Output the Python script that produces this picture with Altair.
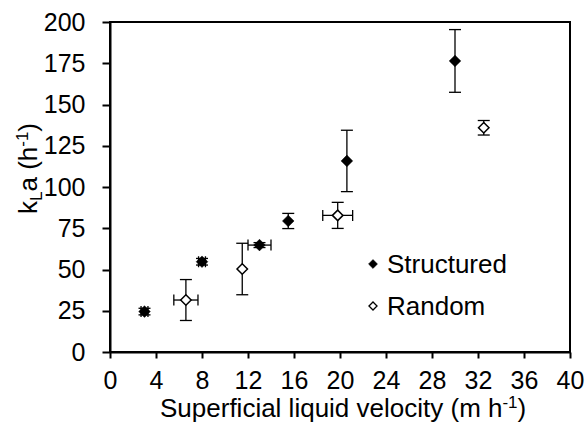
import altair as alt
import pandas as pd

# ---- data ----
series_names = ["Structured", "Random"]
s_x = [3.0, 8.0, 13.0, 15.5, 20.6, 30.0]
s_y = [24.5, 54.7, 64.8, 79.4, 115.8, 176.4]
s_xerr = [0.3, 0.3, 1.0, 0.0, 0.0, 0.0]
s_yerr = [2.0, 2.0, 1.5, 4.6, 18.6, 19.0]

r_x = [6.6, 11.5, 19.8, 32.5]
r_y = [31.5, 50.3, 82.8, 135.9]
r_xerr = [1.05, 0.0, 1.3, 0.0]
r_yerr = [12.4, 15.6, 7.9, 4.4]

x_ticks = list(range(0, 41, 2))
y_ticks = list(range(0, 201, 25))

FONT = "Liberation Sans"

rows = []
for name, xs, ys, xe, ye in [("Structured", s_x, s_y, s_xerr, s_yerr),
                             ("Random", r_x, r_y, r_xerr, r_yerr)]:
    for a, b, c, d in zip(xs, ys, xe, ye):
        rows.append({"series": name, "x": a, "y": b, "xerr": c, "yerr": d,
                     "xlo": a - c, "xhi": a + c, "ylo": b - d, "yhi": b + d})
df = pd.DataFrame(rows)

xs_scale = alt.Scale(domain=[0, 40], nice=False, zero=False)
ys_scale = alt.Scale(domain=[0, 200], nice=False)

x_axis = alt.Axis(values=x_ticks, labelExpr="datum.value % 4 == 0 ? datum.label : ''",
                  title=None, grid=False, tickSize=6, labelPadding=10,
                  labelFontSize=25, labelFont=FONT, labelColor="black",
                  domainColor="black", domainWidth=2, tickColor="black", tickWidth=2,
                  labelFlush=False, labelOverlap=False)
y_axis = alt.Axis(values=y_ticks, title=None, grid=False, tickSize=8, labelPadding=17,
                  labelFontSize=25, labelFont=FONT, labelColor="black",
                  domainColor="black", domainWidth=2, tickColor="black", tickWidth=2,
                  labelOverlap=False)

base = alt.Chart(df)
ERR_W = 1.3

yerr_rule = base.mark_rule(color="black", strokeWidth=ERR_W).encode(
    x=alt.X("x:Q", scale=xs_scale, axis=x_axis),
    y=alt.Y("ylo:Q", scale=ys_scale, axis=y_axis),
    y2="yhi:Q")
ycap_lo = base.mark_tick(orient="horizontal", size=12, thickness=ERR_W, color="black", opacity=1).encode(
    x="x:Q", y="ylo:Q")
ycap_hi = base.mark_tick(orient="horizontal", size=12, thickness=ERR_W, color="black", opacity=1).encode(
    x="x:Q", y="yhi:Q")

xb = base.transform_filter("datum.xerr > 0")
xerr_rule = xb.mark_rule(color="black", strokeWidth=ERR_W).encode(
    x="xlo:Q", x2="xhi:Q", y="y:Q")
xcap_lo = xb.mark_tick(orient="vertical", size=11, thickness=ERR_W, color="black", opacity=1).encode(
    x="xlo:Q", y="y:Q")
xcap_hi = xb.mark_tick(orient="vertical", size=11, thickness=ERR_W, color="black", opacity=1).encode(
    x="xhi:Q", y="y:Q")

pts_s = base.transform_filter("datum.series == 'Structured'").mark_point(
    shape="diamond", filled=True, fill="black", stroke="black", strokeWidth=0.5,
    size=135, opacity=1).encode(x="x:Q", y="y:Q")
pts_r = base.transform_filter("datum.series == 'Random'").mark_point(
    shape="diamond", filled=True, fill="white", stroke="black", strokeWidth=1.5,
    size=110, opacity=1).encode(x="x:Q", y="y:Q")

# ---- text helpers (Arial metrics for placement of sub/superscripts) ----
W = {" ": 278, "(": 333, ")": 333, "-": 333, "1": 556, "S": 667, "u": 556, "p": 556,
     "e": 556, "r": 333, "f": 278, "i": 222, "c": 500, "a": 556, "l": 222, "q": 556,
     "d": 556, "v": 500, "o": 556, "t": 278, "y": 500, "m": 833, "h": 556, "k": 500, "L": 556}


def tw(s, size):
    return sum(W.get(ch, 556) for ch in s) * size / 1000.0


one = alt.Data(values=[{"k": 1}])


def txt(s, x, y, size, angle=0, align="left"):
    kw = dict(font=FONT, fontSize=size, color="black", align=align, baseline="alphabetic")
    if angle:
        kw["angle"] = angle
    return alt.Chart(one).mark_text(**kw).encode(
        x=alt.value(x), y=alt.value(y), text=alt.value(s))


PL, PT = 110, 22  # plot origin on the page
MAIN, SMALL = 26, 17

# x title
xt = []
x0, yb = 160 - PL, 417 - PT
parts = [("Superficial liquid velocity (m h", MAIN, 0), ("-1", SMALL, -9), (")", MAIN, 0)]
cx = x0
for s, fs, dy in parts:
    xt.append(txt(s, cx, yb + dy, fs))
    cx += tw(s, fs)

# y title (rotated, reads bottom to top)
yt = []
bx = 37 - PL
cy = 214 - PT
parts = [("k", MAIN, 0), ("L", SMALL, 5), ("a (h", MAIN, 0), ("-1", SMALL, -9), (")", MAIN, 0)]
for s, fs, dx in parts:
    yt.append(txt(s, bx + dx, cy, fs, angle=270))
    cy -= tw(s, fs)

# legend
leg_s_pt = alt.Chart(one).mark_point(shape="diamond", filled=True, fill="black", stroke="black",
                                     strokeWidth=0.5, size=80, opacity=1).encode(
    x=alt.value(373 - PL), y=alt.value(264 - PT))
leg_r_pt = alt.Chart(one).mark_point(shape="diamond", filled=True, fill="white", stroke="black",
                                     strokeWidth=1.3, size=65, opacity=1).encode(
    x=alt.value(373 - PL), y=alt.value(306 - PT))
leg_s_tx = txt(series_names[0], 387 - PL, 273 - PT, MAIN)
leg_r_tx = txt(series_names[1], 387 - PL, 315 - PT, MAIN)

chart = alt.layer(
    yerr_rule, ycap_lo, ycap_hi, xerr_rule, xcap_lo, xcap_hi, pts_s, pts_r,
    leg_s_pt, leg_r_pt, leg_s_tx, leg_r_tx, *xt, *yt
).properties(
    width=460, height=330,
    autosize=alt.AutoSizeParams(type="none"),
    padding={"left": PL, "top": PT, "right": 17, "bottom": 71},
    background="white",
).configure_view(stroke="black", strokeWidth=2)

chart.save("out.html", embed_options={"renderer": "svg", "actions": False})
